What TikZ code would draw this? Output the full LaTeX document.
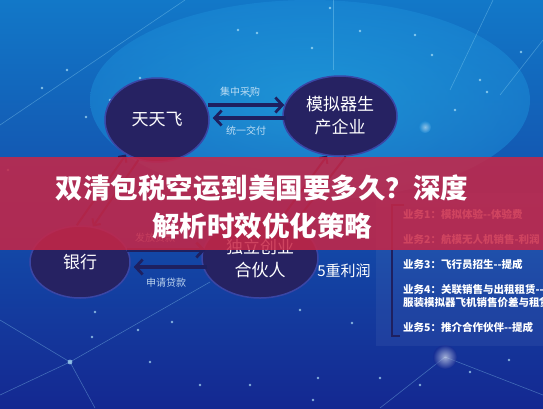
\documentclass[tikz,border=0pt]{standalone}
\usepackage{fontspec}
\newfontfamily\cjk{Noto Sans CJK SC}
\usetikzlibrary{shapes.geometric,arrows.meta}
\definecolor{bgtop}{RGB}{18,120,200}
\definecolor{bgmid}{RGB}{28,140,215}
\definecolor{bgbot}{RGB}{20,40,145}
\definecolor{bgglow}{RGB}{40,185,235}
\definecolor{ellfill}{RGB}{38,34,98}
\definecolor{elledge}{RGB}{58,70,165}
\definecolor{arrcol}{RGB}{30,32,96}
\definecolor{bannercol}{RGB}{200,38,70}
\definecolor{lbl}{RGB}{215,235,250}
\begin{document}
\begin{tikzpicture}[x=1pt,y=-1pt,
  bubble/.style={ellipse,fill=ellfill,draw=elledge,line width=1.5pt,inner sep=0pt,
    text=white,align=center,font=\cjk\fontsize{17}{23}\selectfont},
  arr/.style={draw=arrcol,line width=3.4pt,-{Straight Barb[length=7pt,width=15pt,line width=2.8pt]}},
  farr/.style={draw=arrcol,line width=2pt,-{Straight Barb[length=5pt,width=10pt,line width=2pt]}},
  smalllbl/.style={text=lbl,opacity=0.85,font=\cjk\fontsize{10}{12}\selectfont,inner sep=1pt},
  item/.style={text=white,anchor=west,font=\cjk\bfseries\fontsize{10.5}{13}\selectfont,inner sep=0pt,align=left},
  deco/.style={draw=cyan!40!white,opacity=0.35,line width=0.6pt},
  dot/.style={fill=cyan!30!white,opacity=0.7}]
\useasboundingbox (0,0) rectangle (543,408);
\clip (0,0) rectangle (543,408);
% background
\shade[top color=bgtop,middle color=bgmid,bottom color=bgbot] (0,0) rectangle (543,408);
\shade[inner color=bgglow,outer color=bgmid,opacity=0.55] (310,100) ellipse (220 and 100);
% decorative lines
\draw[deco] (0,125) -- (185,0);
\draw[deco] (333,0) -- (333,70);
\draw[deco] (493,0) -- (450,90);
\draw[deco] (543,40) -- (500,95);
\draw[deco] (0,320) -- (70,362) -- (210,282);
\draw[deco] (70,362) -- (0,395);
\draw[deco] (70,362) -- (95,408);
\draw[deco] (445,357) -- (543,395);
\draw[deco] (445,357) -- (380,408);
% dots
\foreach \p in {(42,88),(67,70),(110,100),(86,117),(238,30),(257,33),(330,8),(312,48),(360,31),(415,35),(432,55),(480,80),(487,92),(455,110),(521,52),(250,96),(140,78),(8,170),(95,312),(92,337),(138,330),(172,322),(150,362),(200,385),(250,385),(318,378),(313,400),(380,378),(420,385),(470,372),(509,360),(352,323),(300,310),(540,300)}
  \fill[dot] \p circle (1.3);
\fill[dot] (70,362) circle (2.4);
\shade[inner color=white,outer color=bgbot,opacity=0.6] (445,357) circle (12);
\shade[inner color=white,outer color=bgmid,opacity=0.5] (425,127) circle (6);
% right panel
\fill[white,opacity=0.05] (376,193) rectangle (543,346);
% nodes
\node[bubble,minimum width=104,minimum height=84] (tt) at (157,120) {天天飞};
\node[bubble,minimum width=114,minimum height=80] (mn) at (340,116) {模拟器生\\产企业};
\node[bubble,minimum width=100,minimum height=72] (bk) at (80,262) {银行};
\node[bubble,minimum width=116,minimum height=80] (dl) at (260,258) {独立创业\\合伙人};
% connectors top
\draw[arr] ([shift={(-2,-15)}]tt.east) -- ([shift={(2,-11)}]mn.west);
\draw[arr] ([shift={(4,2)}]mn.west) -- ([shift={(3,-2)}]tt.east);
\node[smalllbl] (l1) at (240,92) {集中采购};
\node[smalllbl] (l2) at (246,131) {统一交付};
% connectors bottom
\draw[arr] ([shift={(-4,-12)}]bk.east) -- ([shift={(4,-8)}]dl.west);
\draw[arr] ([shift={(6,9)}]dl.west) -- ([shift={(3,5)}]bk.east);
\node[smalllbl] (l3) at (166,283) {申请贷款};
\node[smalllbl] (l4) at (155,238) {发放贷款};
% diagonal connectors (behind banner)
\draw[farr] (tt.245) -- (bk.70);
\draw[farr] (bk.95) -- (tt.228);
\draw[farr] (dl.62) -- (mn.252);
\draw[farr] (mn.278) -- (dl.45);
% profit label and bracket
\node[text=white,font=\cjk\fontsize{15}{18}\selectfont,inner sep=0pt] (pf) at (344,271) {5重利润};
\coordinate (bt) at (404,205);
\coordinate (bb) at (400,336);
\draw[arrcol,line width=2pt] (bt) -- (392,205) -- (392,336) -- (bb);
\node[item] (i1) at (403,214) {业务1：模拟体验--体验费};
\node[item] (i2) at (403,240) {业务2：航模无人机销售-利润};
\node[item] (i3) at (403,264) {业务3：飞行员招生--提成};
\node[item] (i4) at (403,296) {业务4：关联销售与出租租赁--\\服装模拟器飞机销售价差与租赁};
\node[item] (i5) at (403,327) {业务5：推介合作伙伴--提成};
% banner
\fill[bannercol,opacity=0.86] (0,157) rectangle (543,250);
\node[text=white,align=center,font=\cjk\bfseries\fontsize{27.5}{38}\selectfont] (title) at (262,207) {双清包税空运到美国要多久？深度\\解析时效优化策略};
\end{tikzpicture}
\end{document}
